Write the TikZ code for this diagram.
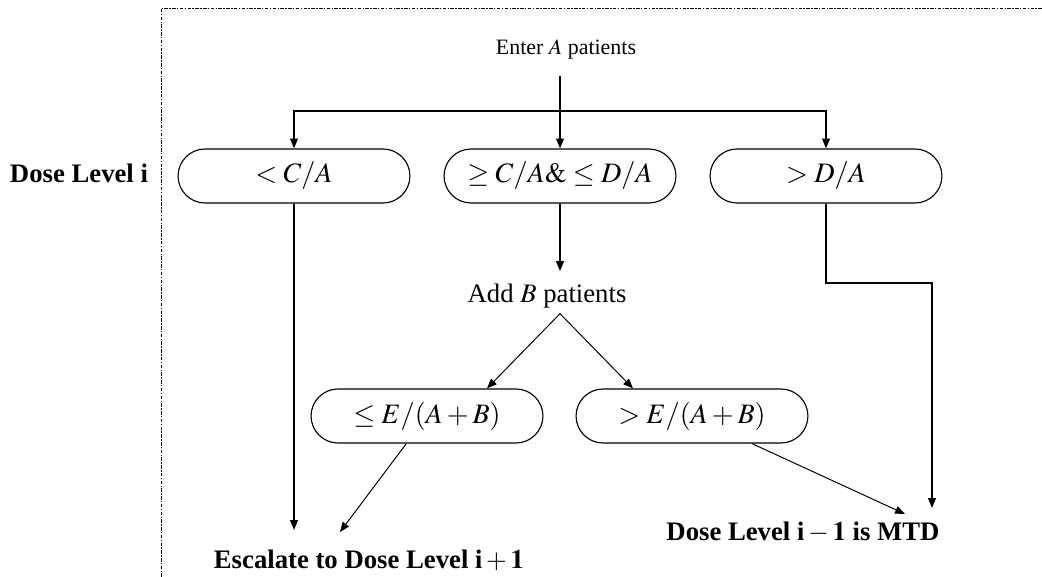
\documentclass[tikz,border=0pt]{standalone}
\usepackage{mathptmx}
\usepackage{fontspec}
\setmainfont{Liberation Serif}
\usepackage{tikz}
\usetikzlibrary{arrows.meta}
\usetikzlibrary{shapes.misc}

\begin{document}
\begin{tikzpicture}[x=0.025cm, y=-0.025cm,
    choice/.style={rounded rectangle, draw, line width=0.8pt, minimum width=6.03cm,
                   minimum height=1.35cm, font=\fontsize{20}{23}\selectfont},
    stagetext/.style={anchor=base, font=\fontsize{19}{22}\selectfont},
    lvltext/.style={anchor=base, font=\fontsize{19}{22}\selectfont\bfseries},
    flow/.style={line width=1.1pt, -{Triangle[length=7pt,width=5.5pt]}},
    slant/.style={line width=0.7pt, -{Triangle[length=7pt,width=5.5pt]}},
    border/.style={line width=0.7pt, dash pattern=on 2.5pt off 1pt on 1pt off 1pt}]
    \useasboundingbox (0,0) rectangle (1042,577);

    \draw[border] (161,577) -- (161,8) -- (1042,8);

    \node[stagetext, font=\fontsize{15.6}{18}\selectfont] (enter) at (566,55) {Enter $A$ patients};
    \node[lvltext] (lvl) at (79,183) {Dose Level i};

    \node[choice] (low) at (294,176) {$<C/A$};
    \node[choice] (mid) at (560,176) {$\geq C/A\& \leq D/A$};
    \node[choice] (high) at (826,176) {$>D/A$};

    \node[stagetext] (addb) at (547,303) {Add $B$ patients};

    \node[choice] (lefte) at (427,416) {$\leq E/(A+B)$};
    \node[choice] (righte) at (692,416) {$>E/(A+B)$};

    \node[lvltext] (esc) at (369,568) {Escalate to Dose Level $\mathbf{i+1}$};
    \node[lvltext] (mtd) at (803,540) {Dose Level $\mathbf{i-1}$ is MTD};

    % free ends
    \coordinate (fork) at (560,111);
    \coordinate (bend) at (932,283);
    \coordinate (escA) at (294,530);
    \coordinate (escB) at (340,532);
    \coordinate (mtdA) at (905,514);
    \coordinate (mtdB) at (932,508);

    \draw[line width=1.1pt, shorten <=8pt] (enter.south -| fork) -- (fork);
    \draw[flow] (fork) -| (low);
    \draw[flow] (fork) -- (mid);
    \draw[flow] (fork) -| (high);

    \draw[flow, shorten >=6pt] (mid) -- (mid |- addb.north);
    \draw[slant] (addb.south -| fork) -- ([xshift=1.5cm]lefte.north);
    \draw[slant] (addb.south -| fork) -- ([xshift=-1.475cm]righte.north);

    \draw[flow] (low) -- (escA);
    \draw[slant] (lefte) -- (escB);
    \draw[slant] (righte) -- (mtdA);
    \draw[flow] (high) |- (bend) -- (mtdB);
\end{tikzpicture}
\end{document}
